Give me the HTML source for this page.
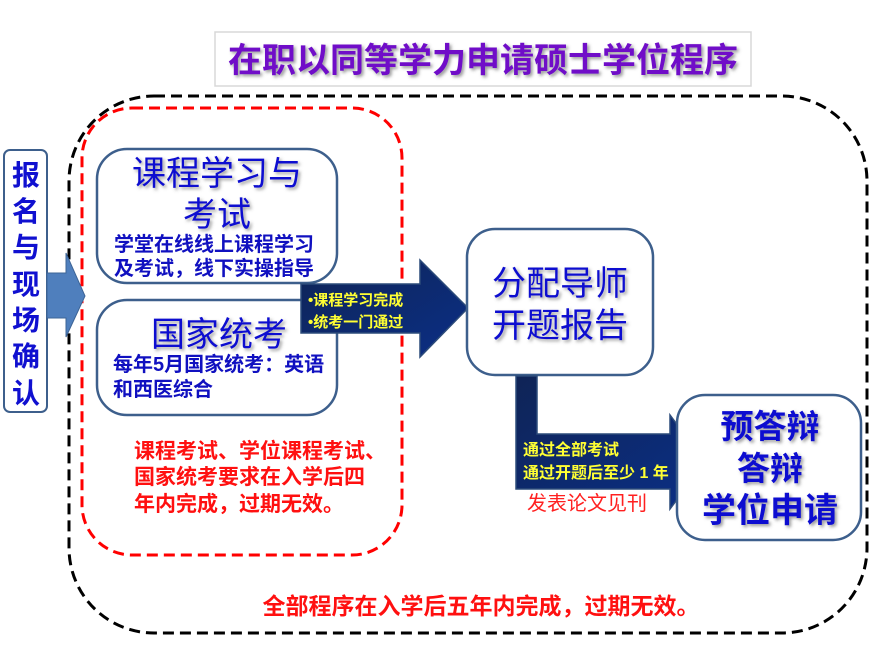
<!DOCTYPE html>
<html><head><meta charset="utf-8"><style>
html,body{margin:0;padding:0;background:#fff;}
svg{display:block;}
text{font-family:"Liberation Sans","Noto Sans CJK SC","WenQuanYi Zen Hei",sans-serif;font-weight:bold;}
.n{font-weight:normal;}
</style></head><body>
<svg width="886" height="653" viewBox="0 0 886 653" xmlns="http://www.w3.org/2000/svg">
<defs>
<linearGradient id="g1" x1="0" y1="0" x2="1" y2="1"><stop offset="0" stop-color="#0f2456"/><stop offset="1" stop-color="#0b2f86"/></linearGradient>
<filter id="sh" x="-5%" y="-20%" width="110%" height="140%"><feDropShadow dx="2" dy="2" stdDeviation="1.5" flood-color="#555" flood-opacity="0.6"/></filter>
</defs>
<!-- title -->
<rect x="215" y="32" width="536" height="54" fill="#fff" stroke="#d8d8d8" stroke-width="1.5"/>
<text x="483" y="72" font-size="34" fill="#7010c8" text-anchor="middle" filter="url(#sh)">在职以同等学力申请硕士学位程序</text>
<!-- outer dashed -->
<rect x="69" y="96" width="798" height="537" rx="85" fill="none" stroke="#000" stroke-width="3" stroke-dasharray="11,6"/>
<rect x="82" y="108" width="320" height="447" rx="50" fill="none" stroke="#ff0000" stroke-width="3" stroke-dasharray="11,6"/>
<!-- left box -->
<rect x="4" y="150" width="43" height="262" rx="6" fill="#fff" stroke="#3d5f8c" stroke-width="2"/>
<g font-size="28" fill="#1010d0" text-anchor="middle">
<text x="26" y="185">报</text><text x="26" y="221">名</text><text x="26" y="257">与</text><text x="26" y="294">现</text><text x="26" y="330">场</text><text x="26" y="366">确</text><text x="26" y="403">认</text>
</g>
<polygon points="47,273 66,273 66,253 85,296 66,337 66,318 47,318" fill="#4f7fbd" stroke="#3d6496" stroke-width="1"/>
<!-- box1 -->
<rect x="97" y="149" width="240" height="134" rx="30" fill="#fff" stroke="#3d5f8c" stroke-width="2.5"/>
<text x="217" y="185" font-size="34" fill="#1010d0" text-anchor="middle" class="n" filter="url(#sh)">课程学习与</text>
<text x="217" y="226" font-size="34" fill="#1010d0" text-anchor="middle" class="n" filter="url(#sh)">考试</text>
<text x="114" y="251" font-size="20" fill="#1010c0">学堂在线线上课程学习</text>
<text x="114" y="275" font-size="20" fill="#1010c0">及考试，线下实操指导</text>
<!-- box2 -->
<rect x="97" y="300" width="240" height="115" rx="30" fill="#fff" stroke="#3d5f8c" stroke-width="2.5"/>
<text x="219" y="346" font-size="34" fill="#1010d0" text-anchor="middle" class="n" filter="url(#sh)">国家统考</text>
<text x="113" y="371" font-size="20" fill="#1010c0">每年5月国家统考：英语</text>
<text x="113" y="396" font-size="20" fill="#1010c0">和西医综合</text>
<!-- arrow1 -->
<polygon points="301,284 420,284 420,260 468,308 420,357 420,333 301,333" fill="url(#g1)" stroke="#2c4b7a" stroke-width="1.5"/>
<text x="308" y="305" font-size="15" fill="#ffff33">•课程学习完成</text>
<text x="308" y="327" font-size="15" fill="#ffff33">•统考一门通过</text>
<!-- box3 -->
<rect x="467" y="229" width="186" height="146" rx="28" fill="#fff" stroke="#3d5f8c" stroke-width="2.5"/>
<text x="560" y="295" font-size="34" fill="#1010d0" text-anchor="middle" class="n" filter="url(#sh)">分配导师</text>
<text x="560" y="337" font-size="34" fill="#1010d0" text-anchor="middle" class="n" filter="url(#sh)">开题报告</text>
<!-- L arrow -->
<polygon points="516,376 537,376 537,434 670,434 670,415 705,462 670,509 670,489 516,489" fill="url(#g1)" stroke="#2c4b7a" stroke-width="1.5"/>
<text x="523" y="455" font-size="16" fill="#ffff33">通过全部考试</text>
<text x="523" y="478" font-size="16" fill="#ffff33">通过开题后至少 1 年</text>
<text x="527" y="510" font-size="20" fill="#ff2020" class="n">发表论文见刊</text>
<!-- box4 -->
<rect x="677" y="395" width="184" height="145" rx="28" fill="#fff" stroke="#3d5f8c" stroke-width="2.5"/>
<text x="770" y="438" font-size="33" fill="#1010d0" text-anchor="middle" filter="url(#sh)">预答辩</text>
<text x="770" y="480" font-size="33" fill="#1010d0" text-anchor="middle" filter="url(#sh)">答辩</text>
<text x="770" y="522" font-size="34" fill="#1010d0" text-anchor="middle" filter="url(#sh)">学位申请</text>
<!-- red notes -->
<text x="134" y="458" font-size="21" fill="#ff1010">课程考试、学位课程考试、</text>
<text x="134" y="484" font-size="21" fill="#ff1010">国家统考要求在入学后四</text>
<text x="134" y="511" font-size="21" fill="#ff1010">年内完成，过期无效。</text>
<text x="481" y="614" font-size="23" fill="#ff1010" text-anchor="middle">全部程序在入学后五年内完成，过期无效。</text>
</svg>
</body></html>
